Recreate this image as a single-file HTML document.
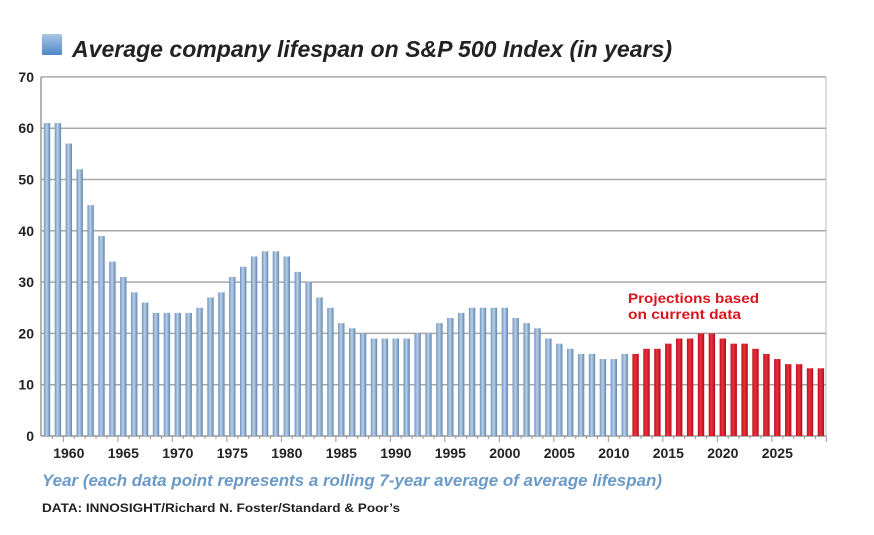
<!DOCTYPE html>
<html><head><meta charset="utf-8">
<style>
html,body{margin:0;padding:0;background:#fff;}
svg{display:block;}
</style></head>
<body>
<svg id="s" width="874" height="535" xmlns="http://www.w3.org/2000/svg">
<defs>
<linearGradient id="gb" x1="0" x2="1" y1="0" y2="0">
<stop offset="0" stop-color="#6f94bd"/><stop offset="0.45" stop-color="#b9cfe6"/><stop offset="1" stop-color="#5f86b2"/>
</linearGradient>
<linearGradient id="gr" x1="0" x2="1" y1="0" y2="0">
<stop offset="0" stop-color="#c0101e"/><stop offset="0.45" stop-color="#e8323e"/><stop offset="1" stop-color="#b00c18"/>
</linearGradient>
<linearGradient id="gi" x1="0" x2="0" y1="0" y2="1">
<stop offset="0" stop-color="#a9c6e6"/><stop offset="1" stop-color="#4f86c6"/>
</linearGradient>
</defs>
<rect x="42" y="34" width="20" height="21" fill="url(#gi)" rx="1"/>
<text x="72" y="57" font-family="Liberation Sans, sans-serif" font-weight="bold" font-style="italic" font-size="23" fill="#222" textLength="600" lengthAdjust="spacingAndGlyphs">Average company lifespan on S&amp;P 500 Index (in years)</text>
<g id="grid"></g>
<g id="bars"></g>
<g id="ticks"></g>
<text x="628" y="303" font-family="Liberation Sans, sans-serif" font-weight="bold" font-size="14" fill="#d9141e" textLength="131" lengthAdjust="spacingAndGlyphs">Projections based</text>
<text x="628" y="319" font-family="Liberation Sans, sans-serif" font-weight="bold" font-size="14" fill="#d9141e" textLength="113" lengthAdjust="spacingAndGlyphs">on current data</text>
<text x="42" y="486" font-family="Liberation Sans, sans-serif" font-style="italic" font-weight="bold" font-size="17" fill="#6b9ac8" textLength="620" lengthAdjust="spacingAndGlyphs">Year (each data point represents a rolling 7-year average of average lifespan)</text>
<text x="42" y="512" font-family="Liberation Sans, sans-serif" font-weight="bold" font-size="12" fill="#222" textLength="358" lengthAdjust="spacingAndGlyphs">DATA: INNOSIGHT/Richard N. Foster/Standard &amp; Poor’s</text>
</svg>
<script>
var NS="http://www.w3.org/2000/svg";
function el(t,a,p,txt){var e=document.createElementNS(NS,t);for(var k in a)e.setAttribute(k,a[k]);if(txt)e.textContent=txt;document.getElementById(p).appendChild(e);return e;}
var L=41,R=826,Y0=436,U=5.13;
for(var v=0;v<=70;v+=10){var y=Y0-v*U;
 if(v>0)el("line",{x1:L,x2:R,y1:y,y2:y,stroke:"#a8a8a8","stroke-width":1.5},"grid");
 el("text",{x:34,y:y+5,"text-anchor":"end","font-family":"Liberation Sans, sans-serif","font-weight":"bold","font-size":14,fill:"#222"},"grid",String(v));}
el("line",{x1:L,x2:L,y1:Y0-70*U,y2:Y0,stroke:"#999","stroke-width":1.5},"grid");
el("line",{x1:R,x2:R,y1:Y0-70*U,y2:Y0,stroke:"#bbb","stroke-width":1},"grid");
el("line",{x1:L,x2:R,y1:Y0,y2:Y0,stroke:"#999","stroke-width":1.5},"grid");
var d=[61,61,57,52,45,39,34,31,28,26,24,24,24,24,25,27,28,31,33,35,36,36,35,32,30,27,25,22,21,20,19,19,19,19,20,20,22,23,24,25,25,25,25,23,22,21,19,18,17,16,16,15,15,16,
16,17,17,18,19,19,20,20,19,18,18,17,16,15,14,14,13.2,13.2];
for(var i=0;i<d.length;i++){var yr=1958+i;var cx=47+i*10.9;var h=d[i]*U;
 el("rect",{x:cx-3.2,y:Y0-h,width:6.4,height:h,fill:yr>=2012?"url(#gr)":"url(#gb)"},"bars");
 el("line",{x1:cx+5.45,x2:cx+5.45,y1:Y0,y2:Y0+(yr%5==4?6:3),stroke:"#999"},"ticks");
 if(yr%5==0)el("text",{x:cx,y:458,"text-anchor":"middle","font-family":"Liberation Sans, sans-serif","font-weight":"bold","font-size":14,fill:"#222"},"ticks",String(yr));}
</script>
</body></html>
